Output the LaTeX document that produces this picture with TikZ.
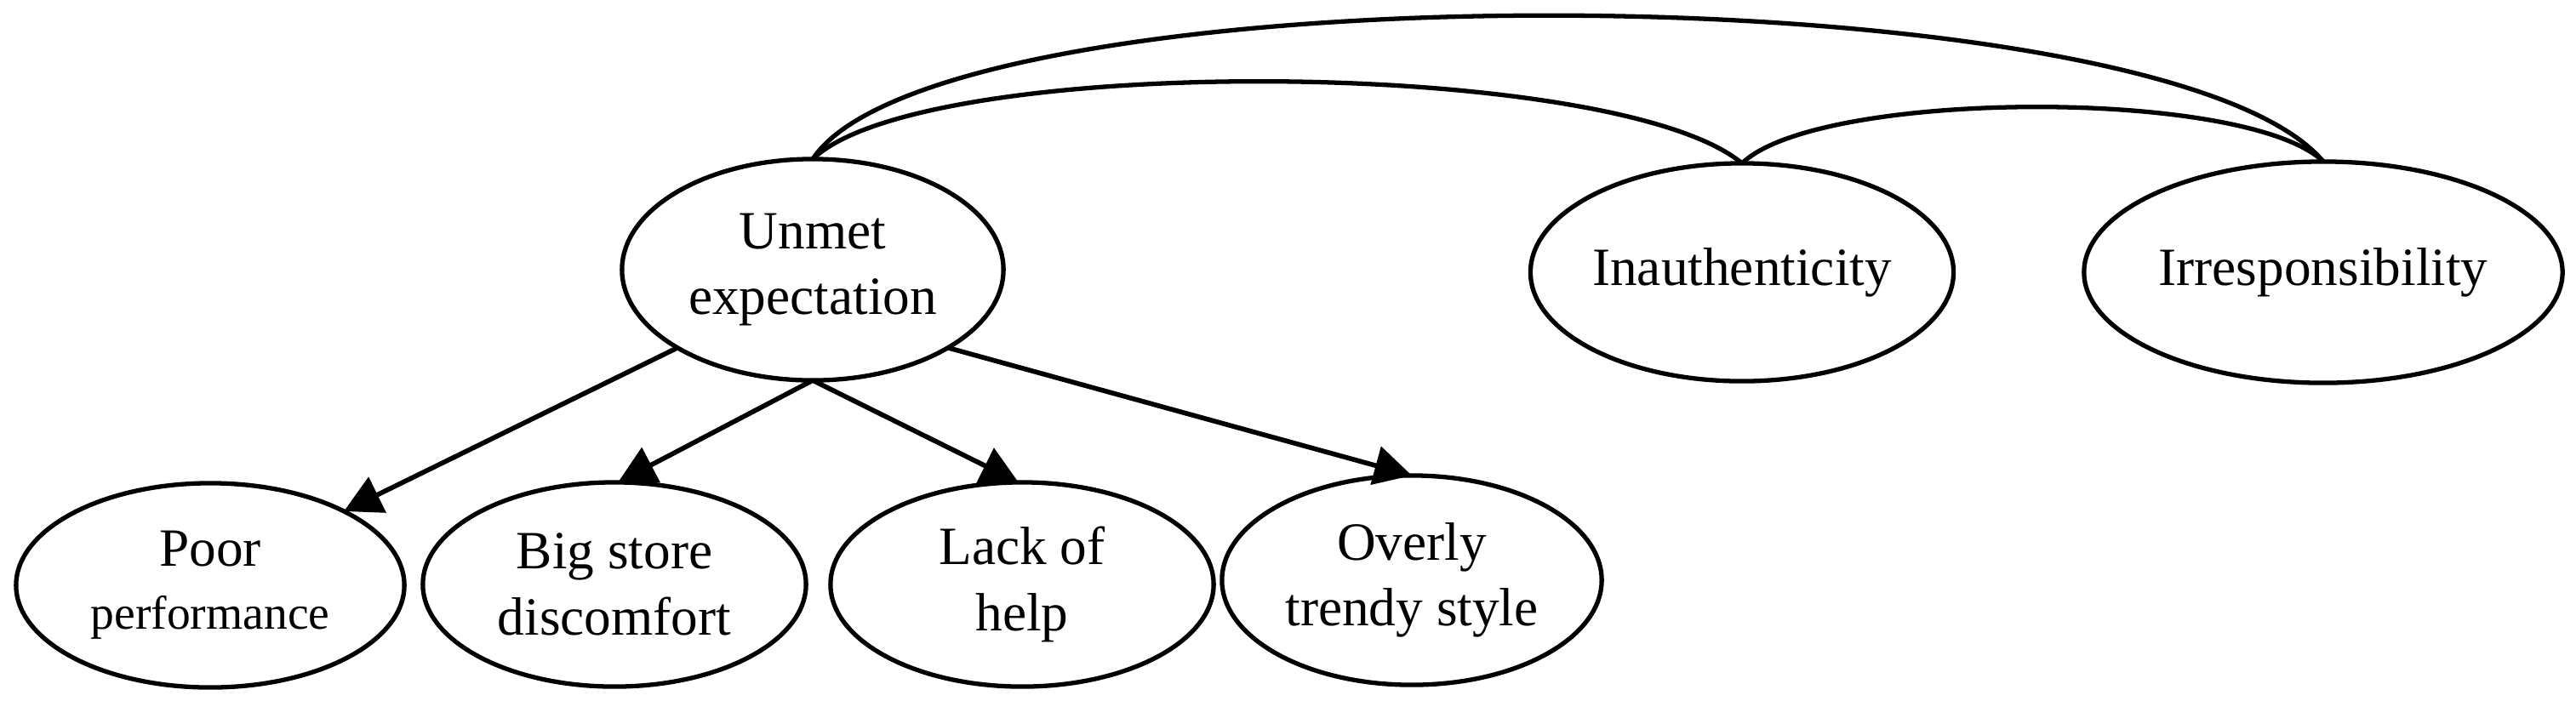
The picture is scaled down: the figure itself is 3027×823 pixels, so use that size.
\documentclass[tikz,border=0pt]{standalone}
\usepackage{fontspec}
\setmainfont{Liberation Serif}
\usetikzlibrary{arrows.meta,shapes.geometric}
\begin{document}
\begin{tikzpicture}[x=0.01cm,y=-0.01cm,
  ell/.style={ellipse, draw, line width=1.5pt, inner sep=0pt, outer sep=0pt,
    align=center, font=\fontsize{18}{22}\selectfont},
  conn/.style={line width=1.6pt, -{Triangle[length=12.5pt,width=13pt]}},
  linkarc/.style={line width=1.5pt}]
\useasboundingbox (0,0) rectangle (3027,823);
% top row
\node[ell, minimum width=4.48cm, minimum height=2.6cm] (u) at (955,317) {Unmet\\expectation};
\node[ell, minimum width=4.92cm, minimum height=2.56cm] (ina) at (2047,320) {Inauthenticity};
\node[ell, minimum width=5.62cm, minimum height=2.6cm] (irr) at (2730,320) {Irresponsibility};
% bottom row
\node[ell, minimum width=4.56cm, minimum height=2.4cm] (poor) at (247,688) {Poor\\[-1pt]{\fontsize{15.8}{19}\selectfont performance}};
\node[ell, minimum width=4.5cm, minimum height=2.4cm] (big) at (722,687) {Big store\\discomfort};
\node[ell, minimum width=4.5cm, minimum height=2.4cm] (lack) at (1201,687) {Lack of\\help};
\node[ell, minimum width=4.46cm, minimum height=2.46cm] (over) at (1659,682) {Overly\\trendy style};
% arrows
\draw[conn] (u.210) -- (poor.29);
\draw[conn] (u.south) -- (big.88);
\draw[conn] (u.south) -- (lack.92);
\draw[conn] (u.330) -- (over.north);
% arcs
\draw[linkarc] (u.north) .. controls +(150,-227) and +(-189,-227) .. (irr.north);
\draw[linkarc] (u.north) .. controls +(130,-125) and +(-150,-125) .. (ina.north);
\draw[linkarc] (ina.north) .. controls +(90,-87) and +(-90,-87) .. (irr.north);
\end{tikzpicture}
\end{document}
